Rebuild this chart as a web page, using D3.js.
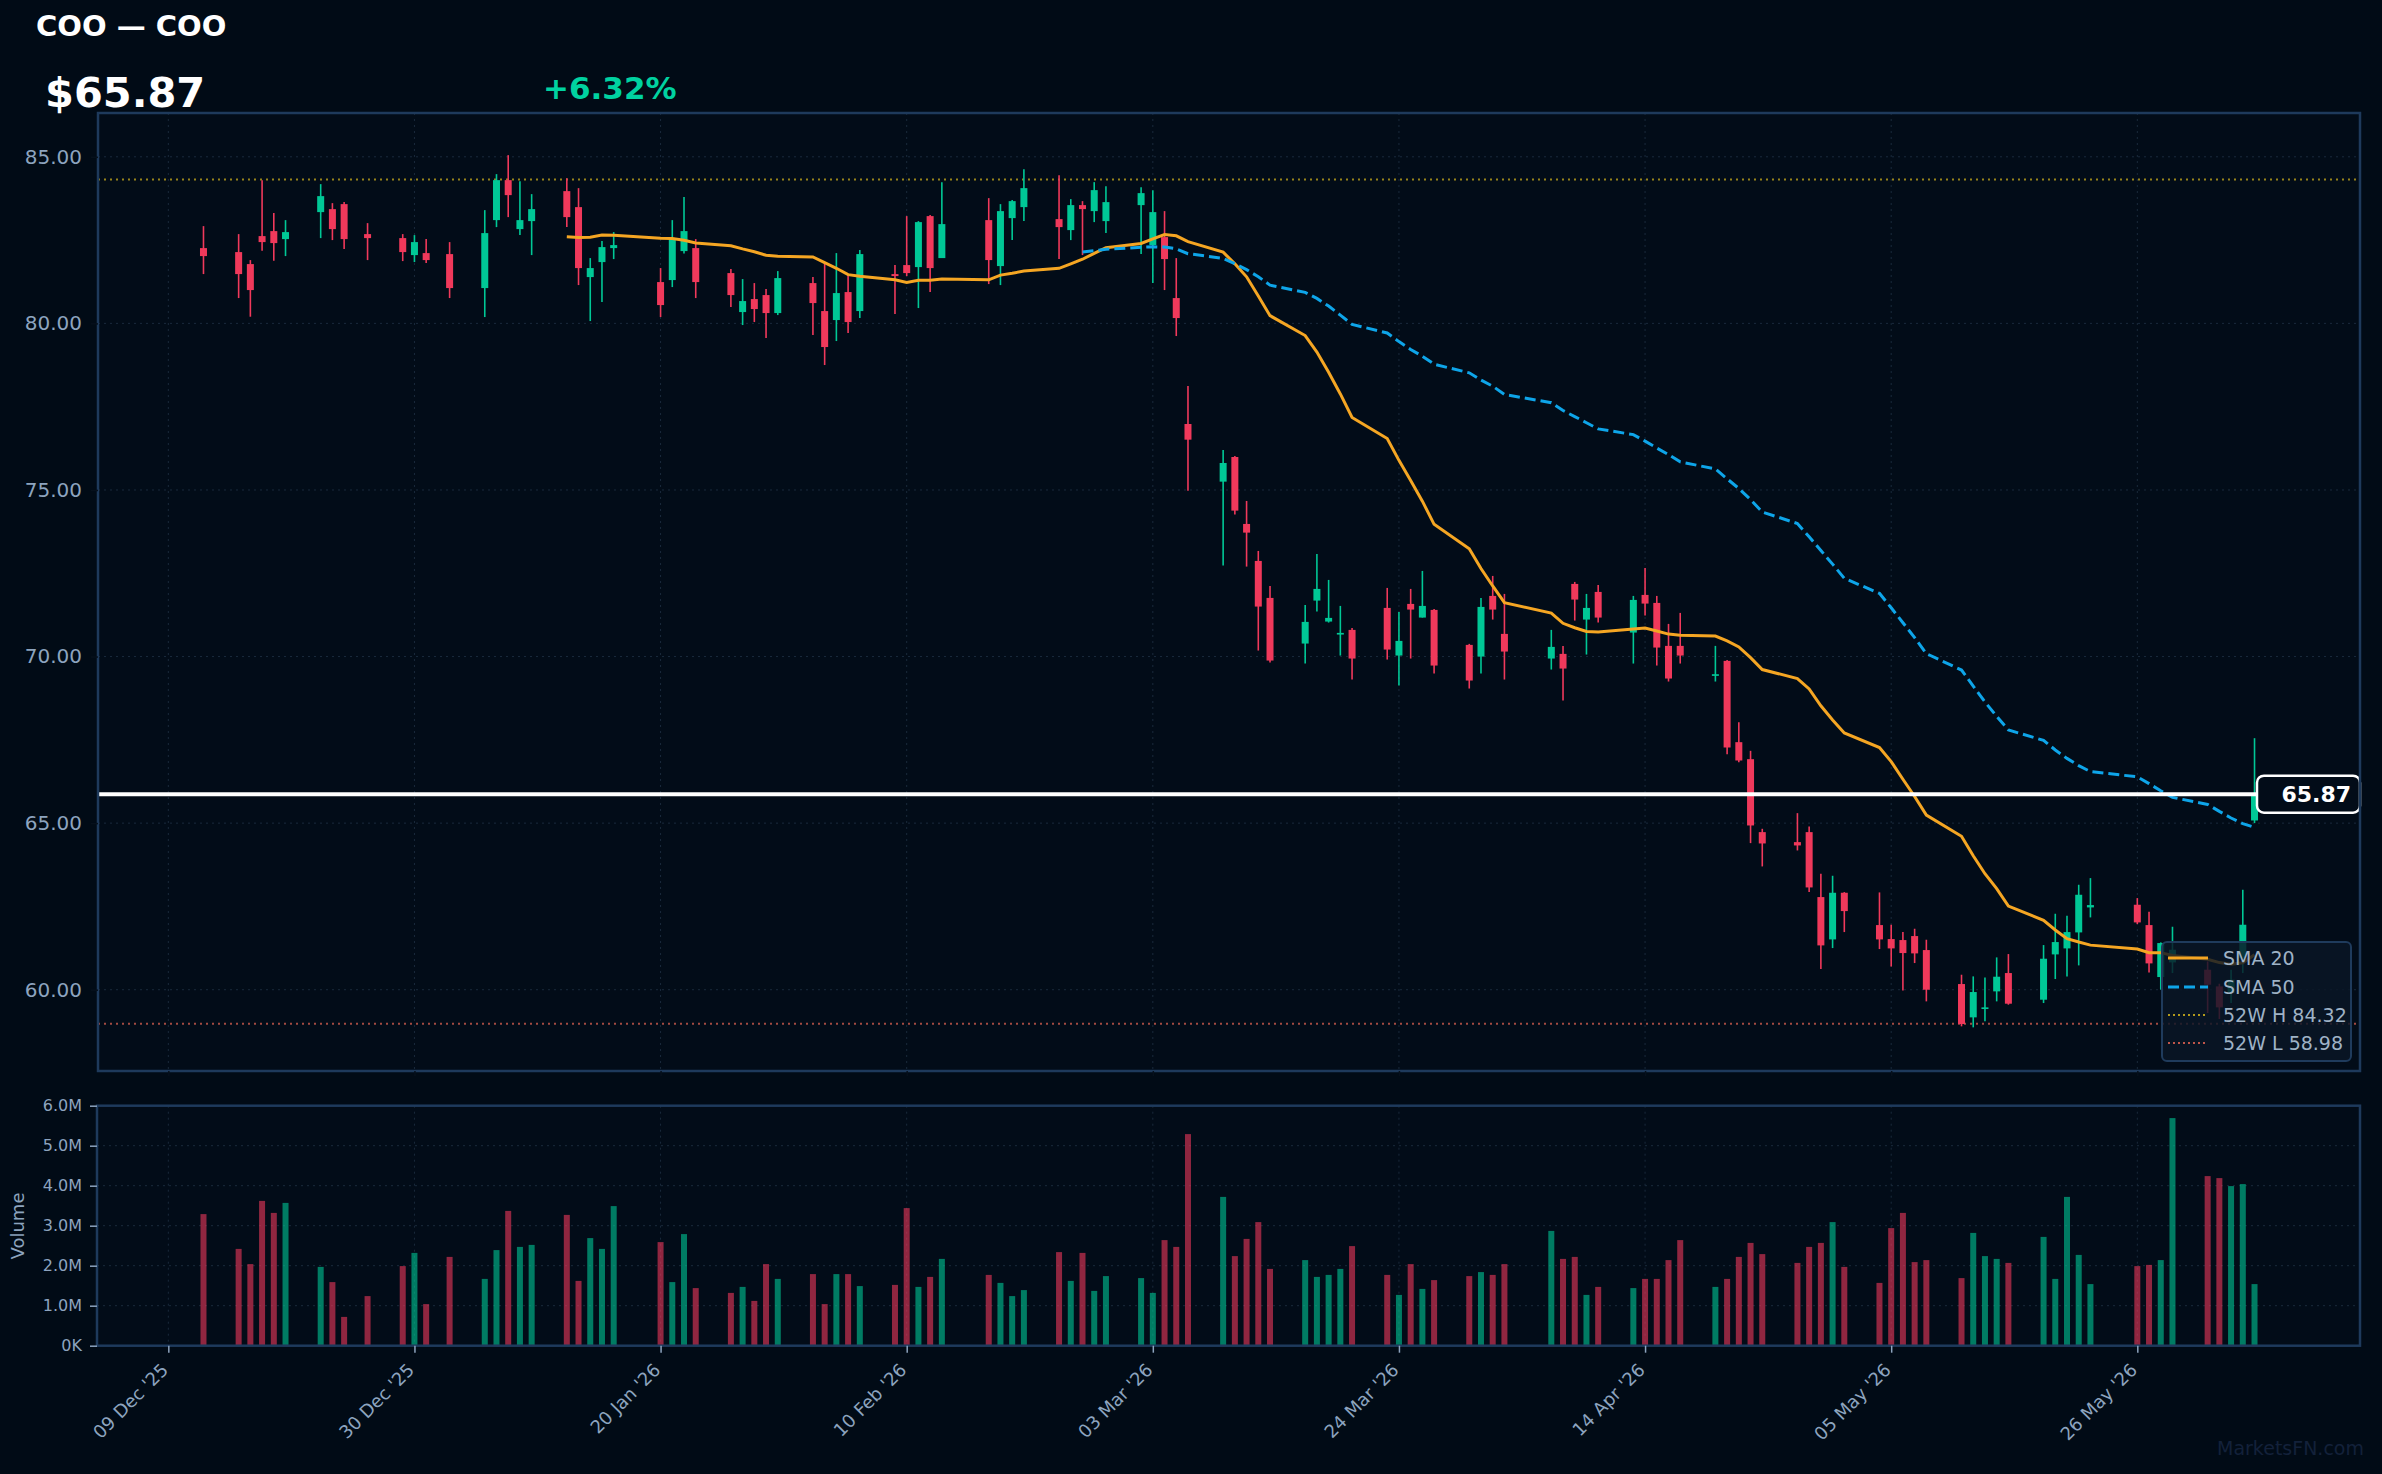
<!DOCTYPE html>
<html><head><meta charset="utf-8">
<script src="https://cdn.jsdelivr.net/npm/d3@7"></script>
<style>html,body{margin:0;padding:0;background:#010b16;} svg{display:block;font-family:"DejaVu Sans",sans-serif;}</style>
</head><body><svg id="c" width="2382" height="1474"></svg>
<script>
const dates = ["2025-12-12","2025-12-15","2025-12-16","2025-12-17","2025-12-18","2025-12-19","2025-12-22","2025-12-23","2025-12-24","2025-12-26",
"2025-12-29","2025-12-30","2025-12-31","2026-01-02","2026-01-05","2026-01-06","2026-01-07","2026-01-08","2026-01-09","2026-01-12",
"2026-01-13","2026-01-14","2026-01-15","2026-01-16","2026-01-20","2026-01-21","2026-01-22","2026-01-23","2026-01-26","2026-01-27",
"2026-01-28","2026-01-29","2026-01-30","2026-02-02","2026-02-03","2026-02-04","2026-02-05","2026-02-06","2026-02-09","2026-02-10",
"2026-02-11","2026-02-12","2026-02-13","2026-02-17","2026-02-18","2026-02-19","2026-02-20","2026-02-23","2026-02-24","2026-02-25",
"2026-02-26","2026-02-27","2026-03-02","2026-03-03","2026-03-04","2026-03-05","2026-03-06","2026-03-09","2026-03-10","2026-03-11",
"2026-03-12","2026-03-13","2026-03-16","2026-03-17","2026-03-18","2026-03-19","2026-03-20","2026-03-23","2026-03-24","2026-03-25",
"2026-03-26","2026-03-27","2026-03-30","2026-03-31","2026-04-01","2026-04-02","2026-04-06","2026-04-07","2026-04-08","2026-04-09",
"2026-04-10","2026-04-13","2026-04-14","2026-04-15","2026-04-16","2026-04-17","2026-04-20","2026-04-21","2026-04-22","2026-04-23",
"2026-04-24","2026-04-27","2026-04-28","2026-04-29","2026-04-30","2026-05-01","2026-05-04","2026-05-05","2026-05-06","2026-05-07",
"2026-05-08","2026-05-11","2026-05-12","2026-05-13","2026-05-14","2026-05-15","2026-05-18","2026-05-19","2026-05-20","2026-05-21",
"2026-05-22","2026-05-26","2026-05-27","2026-05-28","2026-05-29","2026-06-01","2026-06-02","2026-06-03","2026-06-04","2026-06-05"];

const open = [82.26,82.14,81.78,82.62,82.77,82.53,83.34,83.43,83.58,82.68,
82.56,82.05,82.11,82.08,81.06,83.10,84.30,82.83,83.07,83.97,
83.49,81.39,81.84,82.26,81.24,81.30,82.17,82.26,81.51,80.34,
80.73,80.85,80.31,81.21,80.37,80.10,80.94,80.37,81.48,81.75,
81.69,83.22,81.96,83.10,81.72,83.16,83.49,83.13,82.80,83.55,
83.37,83.07,83.55,82.35,82.59,80.76,76.98,75.25,75.99,73.98,
72.87,71.76,70.39,71.68,71.05,70.66,70.80,71.46,70.03,71.58,
71.17,71.40,70.35,70.00,71.82,70.68,69.94,70.08,72.18,71.11,
71.94,70.72,71.85,71.61,70.32,70.32,69.42,69.87,67.43,66.92,
64.73,64.43,64.73,62.78,61.51,62.91,61.94,61.52,61.49,61.61,
61.19,60.17,59.17,59.42,59.95,60.50,59.70,61.06,61.24,61.72,
62.47,62.55,61.94,60.38,60.82,60.60,60.10,59.90,60.95,65.08];

const high = [82.92,82.68,81.90,84.30,83.31,83.10,84.18,83.61,83.64,83.01,
82.68,82.65,82.53,82.44,83.40,84.48,85.05,84.27,83.88,84.36,
84.06,81.96,82.47,82.74,81.66,83.10,83.79,82.53,81.63,81.33,
81.21,81.03,81.57,81.39,81.81,82.11,81.45,82.20,81.75,83.22,
83.07,83.25,84.24,83.76,83.58,83.70,84.63,84.45,83.73,83.67,
84.24,84.12,84.09,84.00,83.37,81.96,78.12,76.20,76.02,74.67,
73.17,72.12,71.55,73.08,72.30,71.52,70.86,72.06,71.34,72.03,
72.57,71.43,70.38,71.76,72.42,71.88,70.80,70.32,72.24,71.88,
72.15,71.82,72.66,71.82,70.98,71.31,70.32,69.90,68.03,67.17,
64.83,65.30,64.90,63.48,63.42,62.93,62.92,61.95,61.73,61.83,
61.50,60.45,60.40,60.37,60.97,61.07,61.34,62.28,62.22,63.15,
63.35,62.75,62.34,61.42,61.89,60.85,60.18,60.60,63.00,67.55];

const low = [81.48,80.76,80.20,82.18,81.88,82.02,82.56,82.50,82.23,81.90,
81.87,81.84,81.81,80.76,80.19,82.89,83.19,82.65,82.05,82.89,
81.15,80.07,80.64,81.93,80.19,81.09,82.10,80.76,80.49,79.95,
80.04,79.56,80.25,79.65,78.75,79.47,79.71,80.16,80.28,81.42,
80.46,80.94,81.96,81.18,81.15,82.50,83.07,81.93,82.50,82.05,
83.04,82.71,82.08,81.21,81.00,79.62,74.98,72.73,74.26,72.70,
70.18,69.82,69.79,71.35,71.02,70.03,69.31,69.91,69.13,69.94,
71.17,69.49,69.04,69.49,71.11,69.31,69.61,68.68,71.08,70.06,
71.02,69.79,71.23,69.73,69.25,69.79,69.25,67.07,66.83,64.40,
63.70,64.18,62.93,60.62,61.25,61.73,61.22,60.70,59.98,60.80,
59.65,58.90,58.87,59.05,59.65,59.55,59.60,60.32,60.40,60.73,
62.17,61.97,60.52,60.00,60.50,59.30,59.12,59.60,60.50,65.00];

const close = [82.02,81.48,81.00,82.44,82.41,82.74,83.82,82.83,82.53,82.56,
82.14,82.44,81.90,81.06,82.71,84.30,83.85,83.10,83.43,83.19,
81.66,81.66,82.29,82.35,80.55,82.56,82.77,81.24,80.85,80.67,
80.43,80.31,81.36,80.61,79.29,80.91,80.04,82.08,81.42,81.51,
83.04,81.66,82.98,81.90,83.37,83.67,84.06,82.89,83.55,83.43,
84.00,83.64,83.91,83.34,81.93,80.16,76.51,75.81,74.38,73.72,
71.50,69.88,71.04,72.03,71.16,70.71,69.94,70.21,70.47,71.41,
71.52,69.73,69.28,71.49,71.41,70.15,70.29,69.64,71.71,71.46,
71.17,71.70,71.59,70.27,69.34,70.03,69.47,67.27,66.88,64.93,
64.39,64.33,63.07,61.33,62.91,62.36,61.51,61.24,61.10,61.09,
60.00,58.97,59.93,59.47,60.39,59.58,60.93,61.43,61.73,62.85,
62.54,62.02,60.79,61.40,61.20,60.15,59.47,60.30,61.95,65.87];

const volumeM = [3.29,2.42,2.04,3.62,3.32,3.57,1.97,1.59,0.72,1.24,
1.99,2.32,1.04,2.22,1.67,2.39,3.37,2.47,2.52,3.27,
1.62,2.69,2.42,3.49,2.59,1.59,2.79,1.44,1.32,1.47,
1.12,2.04,1.67,1.79,1.04,1.79,1.79,1.49,1.52,3.44,
1.47,1.72,2.17,1.77,1.57,1.24,1.39,2.34,1.62,2.32,
1.37,1.74,1.69,1.32,2.64,2.47,5.29,3.72,2.24,2.67,
3.09,1.92,2.14,1.72,1.77,1.92,2.49,1.77,1.27,2.04,
1.42,1.64,1.74,1.84,1.77,2.04,2.87,2.17,2.22,1.27,
1.47,1.44,1.67,1.67,2.14,2.64,1.47,1.67,2.22,2.57,
2.29,2.07,2.47,2.57,3.09,1.97,1.57,2.94,3.32,2.09,
2.14,1.69,2.82,2.24,2.17,2.07,2.72,1.67,3.72,2.27,
1.54,1.99,2.02,2.14,5.69,4.24,4.19,3.99,4.04,1.54];

const priceTicks = [60,65,70,75,80,85];
const volumeTicks = [0,1e6,2e6,3e6,4e6,5e6,6e6];
const dateTicks = ["2025-12-09","2025-12-30","2026-01-20","2026-02-10","2026-03-03","2026-03-24","2026-04-14","2026-05-05","2026-05-26"];
const lastPrice = 65.87;
const changePct = "+6.32%";
const high52 = 84.32, low52 = 58.98;
const titleText = "COO — COO";
const legendLabels = ["SMA 20","SMA 50","52W H 84.32","52W L 58.98"];

const W=2382,H=1474;
const UP="#00c896", DOWN="#f0395b", AXC="#8da4bf", BORDER="#1e3a5c", GRID="#1a2a3c", BG="#010b16";
const svg=d3.select("#c");
svg.append("rect").attr("width",W).attr("height",H).attr("fill",BG);

const M={l:98,r:2360,t:113,b:1071};
const V={l:97,r:2360,t:1105.7,b:1345.7};
const parse=d3.utcParse("%Y-%m-%d");
const DAY=864e5;
const data=dates.map((d,i)=>({d:parse(d),o:open[i],h:high[i],l:low[i],c:close[i],v:volumeM[i]*1e6}));
const tickDates=dateTicks.map(parse);

const x=d3.scaleUtc().domain([new Date(+data[0].d-9*DAY), new Date(+data[data.length-1].d+9*DAY)]).range([M.l,M.r]);
const y=d3.scaleLinear().domain([57.56,86.315]).range([M.b,M.t]);
const yv=d3.scaleLinear().domain([0,6e6]).range([V.b,V.t]);

// plot backgrounds
svg.append("rect").attr("x",M.l).attr("y",M.t).attr("width",M.r-M.l).attr("height",M.b-M.t).attr("fill","#020c18");
svg.append("rect").attr("x",V.l).attr("y",V.t).attr("width",V.r-V.l).attr("height",V.b-V.t).attr("fill","#020c18");

// grids
const g=svg.append("g");
g.selectAll("line.hg").data(priceTicks).join("line").attr("x1",M.l).attr("x2",M.r).attr("y1",d=>y(d)).attr("y2",d=>y(d))
 .attr("stroke",GRID).attr("stroke-width",1).attr("stroke-dasharray","2,4");
g.selectAll("line.vg").data(tickDates).join("line").attr("class","vg").attr("y1",M.t).attr("y2",M.b).attr("x1",d=>x(d)).attr("x2",d=>x(d))
 .attr("stroke",GRID).attr("stroke-width",1).attr("stroke-dasharray","2,4");
const gv=svg.append("g");
gv.selectAll("line.h").data(volumeTicks.slice(1,-1)).join("line").attr("x1",V.l).attr("x2",V.r).attr("y1",d=>yv(d)).attr("y2",d=>yv(d))
 .attr("stroke",GRID).attr("stroke-width",1).attr("stroke-dasharray","2,4");
gv.selectAll("line.v").data(tickDates).join("line").attr("class","v").attr("y1",V.t).attr("y2",V.b).attr("x1",d=>x(d)).attr("x2",d=>x(d))
 .attr("stroke",GRID).attr("stroke-width",1).attr("stroke-dasharray","2,4");

// 52W lines
svg.append("line").attr("x1",M.l).attr("x2",M.r).attr("y1",y(high52)).attr("y2",y(high52))
 .attr("stroke","#b39a1c").attr("stroke-width",2).attr("stroke-dasharray","2,4").attr("opacity",0.85);
svg.append("line").attr("x1",M.l).attr("x2",M.r).attr("y1",y(low52)).attr("y2",y(low52))
 .attr("stroke","#c0564a").attr("stroke-width",2).attr("stroke-dasharray","2,4").attr("opacity",0.85);

// candles
const cg=svg.append("g");
const col=d=>d.c>=d.o?UP:DOWN;
cg.selectAll("line.w").data(data).join("line").attr("x1",d=>x(d.d)).attr("x2",d=>x(d.d)).attr("y1",d=>y(d.h)).attr("y2",d=>y(d.l))
 .attr("stroke",col).attr("stroke-width",1.6);
cg.selectAll("rect.b").data(data).join("rect").attr("x",d=>x(d.d)-3.5).attr("width",7)
 .attr("y",d=>y(Math.max(d.o,d.c))).attr("height",d=>Math.max(1.5,Math.abs(y(d.o)-y(d.c)))).attr("fill",col);

// SMAs (rolling mean of the closes above)
function sma(n){const out=[];for(let i=n-1;i<data.length;i++){out.push({d:data[i].d,v:d3.mean(data.slice(i-n+1,i+1),e=>e.c)});}return out;}
const line=d3.line().x(d=>x(d.d)).y(d=>y(d.v));
svg.append("path").datum(sma(20)).attr("d",line).attr("fill","none").attr("stroke","#f5a623").attr("stroke-width",3);
svg.append("path").datum(sma(50)).attr("d",line).attr("fill","none").attr("stroke","#0ea5e9").attr("stroke-width",3).attr("stroke-dasharray","11,5");

// current price line + label
const yp=y(lastPrice);
svg.append("line").attr("x1",M.l).attr("x2",2257).attr("y1",yp).attr("y2",yp).attr("stroke","#ffffff").attr("stroke-width",4);
svg.append("rect").attr("x",2257).attr("y",yp-18.5).attr("width",103).attr("height",37).attr("rx",7)
 .attr("fill","#020c18").attr("stroke","#ffffff").attr("stroke-width",2.5);
svg.append("text").attr("x",2351).attr("y",yp).attr("dy","0.36em").attr("text-anchor","end").attr("fill","#ffffff")
 .attr("font-size",22).attr("font-weight","bold").text(lastPrice.toFixed(2));

// volume bars
svg.append("g").selectAll("rect").data(data).join("rect").attr("x",d=>x(d.d)-3).attr("width",6)
 .attr("y",d=>yv(d.v)).attr("height",d=>yv(0)-yv(d.v)).attr("fill",col).attr("opacity",0.6);

// frames
svg.append("rect").attr("x",M.l).attr("y",M.t).attr("width",M.r-M.l).attr("height",M.b-M.t).attr("fill","none").attr("stroke",BORDER).attr("stroke-width",2.5);
svg.append("rect").attr("x",V.l).attr("y",V.t).attr("width",V.r-V.l).attr("height",V.b-V.t).attr("fill","none").attr("stroke",BORDER).attr("stroke-width",2.5);

// axes
function styleAxis(sel,fs,tickCol){sel.select(".domain").remove();sel.selectAll(".tick line").attr("stroke",tickCol).attr("stroke-width",1.5);
 sel.selectAll(".tick text").attr("fill",AXC).attr("font-size",fs).attr("font-family","DejaVu Sans");}
const ay=svg.append("g").attr("transform",`translate(${M.l},0)`).call(d3.axisLeft(y).tickValues(priceTicks).tickFormat(d3.format(".2f")).tickSize(7).tickPadding(9));
styleAxis(ay,20,"#06101c");
const avy=svg.append("g").attr("transform",`translate(${V.l},0)`).call(d3.axisLeft(yv).tickValues(volumeTicks).tickFormat(v=>v===0?"0K":(v/1e6).toFixed(1)+"M").tickSize(7).tickPadding(8));
styleAxis(avy,16,AXC);
const axm=svg.append("g").attr("transform",`translate(0,${M.b})`).call(d3.axisBottom(x).tickValues(tickDates).tickFormat("").tickSize(5));
styleAxis(axm,16,"#06101c");
const axb=svg.append("g").attr("transform",`translate(0,${V.b})`).call(d3.axisBottom(x).tickValues(tickDates).tickFormat(d3.utcFormat("%d %b '%y")).tickSize(7));
styleAxis(axb,18,AXC);
axb.selectAll(".tick text").attr("x",0).attr("y",0).attr("dy","0.35em").attr("text-anchor","end").attr("transform","translate(-4,21) rotate(-45)");

svg.append("text").attr("transform","translate(24,1226) rotate(-90)").attr("text-anchor","middle").attr("fill",AXC).attr("font-size",18).text("Volume");

// header
svg.append("text").attr("x",36).attr("y",36).attr("fill","#ffffff").attr("font-size",29).attr("font-weight","bold").text(titleText);
svg.append("text").attr("x",45).attr("y",107).attr("fill","#ffffff").attr("font-size",41.5).attr("font-weight","bold").text("$"+lastPrice.toFixed(2));
svg.append("text").attr("x",543).attr("y",99).attr("fill","#00d2a0").attr("font-size",31).attr("font-weight","bold").text(changePct);

// legend
const lg=svg.append("g");
lg.append("rect").attr("x",2162).attr("y",942).attr("width",189).attr("height",119).attr("rx",5)
 .attr("fill","#0a1626").attr("fill-opacity",0.82).attr("stroke","#1f3b5c").attr("stroke-width",2);
const ls=[{c:"#f5a623",da:null,w:3},{c:"#0ea5e9",da:"11,5",w:3},{c:"#b39a1c",da:"2,3",w:2},{c:"#c0564a",da:"2,3",w:2}];
const lys=[958,987,1015,1043];
ls.forEach((s,i)=>{
 lg.append("line").attr("x1",2168).attr("x2",2208).attr("y1",lys[i]).attr("y2",lys[i]).attr("stroke",s.c).attr("stroke-width",s.w).attr("stroke-dasharray",s.da);
 lg.append("text").attr("x",2223).attr("y",lys[i]).attr("dy","0.36em").attr("fill","#9fb2c6").attr("font-size",19).text(legendLabels[i]);
});

// watermark
svg.append("text").attr("x",2364).attr("y",1455).attr("text-anchor","end").attr("fill","#13213a").attr("font-size",19).text("MarketsFN.com");
</script></body></html>
